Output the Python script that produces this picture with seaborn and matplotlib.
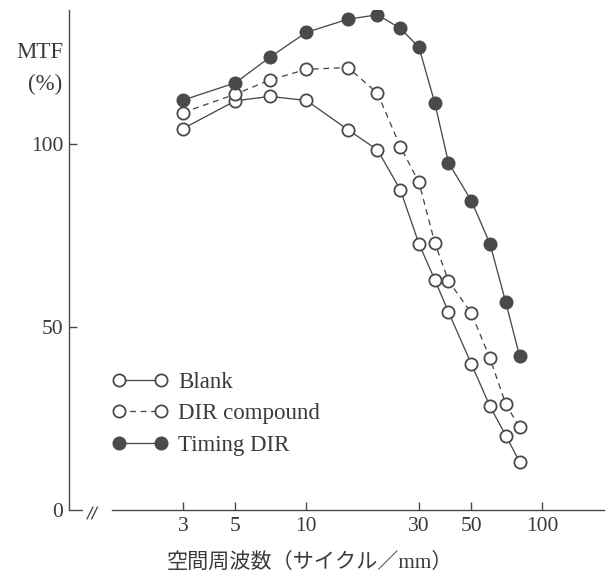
import matplotlib
matplotlib.use("Agg")
import matplotlib.pyplot as plt
import seaborn as sns
import numpy as np
import pandas as pd
from matplotlib.ticker import NullLocator, FixedLocator, FixedFormatter

# ---- data ----
freq = [3, 5, 7, 10, 15, 20, 25, 30, 35, 40, 50, 60, 70, 80]
blank = [104.2, 111.8, 113.0, 111.9, 103.9, 98.4, 87.5, 72.7, 62.9, 54.1, 39.9, 28.3, 20.3, 13.2]
dir_compound = [108.6, 113.6, 117.5, 120.4, 120.9, 113.9, 99.3, 89.5, 73.0, 62.6, 53.8, 41.4, 28.9, 22.6]
timing_dir = [112.0, 116.7, 123.7, 130.5, 134.1, 135.3, 131.6, 126.4, 111.2, 94.9, 84.5, 72.7, 56.7, 42.1]

labels = ["Blank", "DIR compound", "Timing DIR"]
xticks = [3, 5, 10, 30, 50, 100]
yticks = [0, 50, 100]
xlabel = "空間周波数（サイクル／mm）"
ylabel_top = "MTF"
ylabel_bottom = "(%)"

df = pd.DataFrame({"freq": freq, "Blank": blank, "DIR compound": dir_compound, "Timing DIR": timing_dir})

sns.set_theme(style="white")
plt.rcParams["font.family"] = ["Liberation Serif", "Noto Sans CJK JP", "DejaVu Sans"]
plt.rcParams["axes.linewidth"] = 1.0

W, H = 615, 575
fig = plt.figure(figsize=(W / 100, H / 100), dpi=100)
fig.patch.set_facecolor("white")

# axes in pixel layout: x from 69 to 604, y from 10 to 510
ax_l, ax_r, ax_t, ax_b = 69, 604, 10, 510
ax = fig.add_axes([ax_l / W, (H - ax_b) / H, (ax_r - ax_l) / W, (ax_b - ax_t) / H])
ax.set_facecolor("white")

col = "#4a4a4a"
ms = 8.8
mew = 1.3
lw = 0.95

sns.lineplot(data=df, x="freq", y="Blank", ax=ax, color=col, linewidth=lw,
             marker="o", markersize=ms, markerfacecolor="white",
             markeredgecolor=col, markeredgewidth=mew, label=labels[0])
sns.lineplot(data=df, x="freq", y="DIR compound", ax=ax, color=col, linewidth=lw,
             linestyle=(0, (4.5, 3.5)),
             marker="o", markersize=ms, markerfacecolor="white",
             markeredgecolor=col, markeredgewidth=mew, label=labels[1])
sns.lineplot(data=df, x="freq", y="Timing DIR", ax=ax, color=col, linewidth=lw,
             marker="o", markersize=ms, markerfacecolor=col,
             markeredgecolor=col, markeredgewidth=mew, label=labels[2])

# scales
ax.set_xscale("log")
px_per_dec = 236.0
def px_to_x(px):
    return 10 ** (np.log10(3) + (px - 183) / px_per_dec)
ax.set_xlim(px_to_x(ax_l), px_to_x(ax_r))
ax.set_ylim(0, (ax_b - ax_t) / 3.66)

# spines
for s in ["top", "right"]:
    ax.spines[s].set_visible(False)
ax.spines["left"].set_color(col)
ax.spines["bottom"].set_color(col)
ax.spines["bottom"].set_bounds(px_to_x(112), px_to_x(ax_r))

# ticks
ax.xaxis.set_major_locator(FixedLocator(xticks))
ax.xaxis.set_major_formatter(FixedFormatter([str(t) for t in xticks]))
ax.xaxis.set_minor_locator(NullLocator())
ax.set_yticks(yticks)
ax.set_yticklabels([str(t) for t in yticks])
ax.tick_params(axis="both", which="major", direction="in", length=6, width=1.0,
               color=col, labelsize=15.5, labelcolor="#3a3a3a", pad=4)
ax.tick_params(axis="x", bottom=True, pad=5)
ax.tick_params(axis="y", left=True)
ax.yaxis.get_major_ticks()[0].tick1line.set_visible(False)
ax.set_xlabel("")
ax.set_ylabel("")

# axis break decoration: stub at origin and '//'
def axfrac(px, py):
    return (px - ax_l) / (ax_r - ax_l), (ax_b - py) / (ax_b - ax_t)

x0, y0 = axfrac(ax_l, ax_b)
x1, _ = axfrac(82, ax_b)
ax.plot([x0, x1], [y0, y0], transform=ax.transAxes, color=col, lw=1.0, clip_on=False)
for off in (0, 4.5):
    a = axfrac(87 + off, 519)
    b = axfrac(93 + off, 507)
    ax.plot([a[0], b[0]], [a[1], b[1]], transform=ax.transAxes, color=col, lw=1.0, clip_on=False)

# y label
fig.text(63 / W, (H - 52) / H, ylabel_top, ha="right", va="center", fontsize=16.5, color="#3a3a3a")
fig.text(62 / W, (H - 84) / H, ylabel_bottom, ha="right", va="center", fontsize=16.5, color="#3a3a3a")

# x label
fig.text(310 / W, (H - 563) / H, xlabel, ha="center", va="center", fontsize=15.2, color="#3a3a3a")

# legend
handles, labs = ax.get_legend_handles_labels()
leg = ax.legend(handles, labs, numpoints=2, frameon=False, fontsize=16.5,
                handlelength=2.45, handletextpad=0.45, labelspacing=0.45,
                borderpad=0, borderaxespad=0, loc="upper left",
                bbox_to_anchor=(112 / W, (H - 372) / H), bbox_transform=fig.transFigure)
for t in leg.get_texts():
    t.set_color("#3a3a3a")

fig.savefig("out.png", dpi=100, facecolor="white")
